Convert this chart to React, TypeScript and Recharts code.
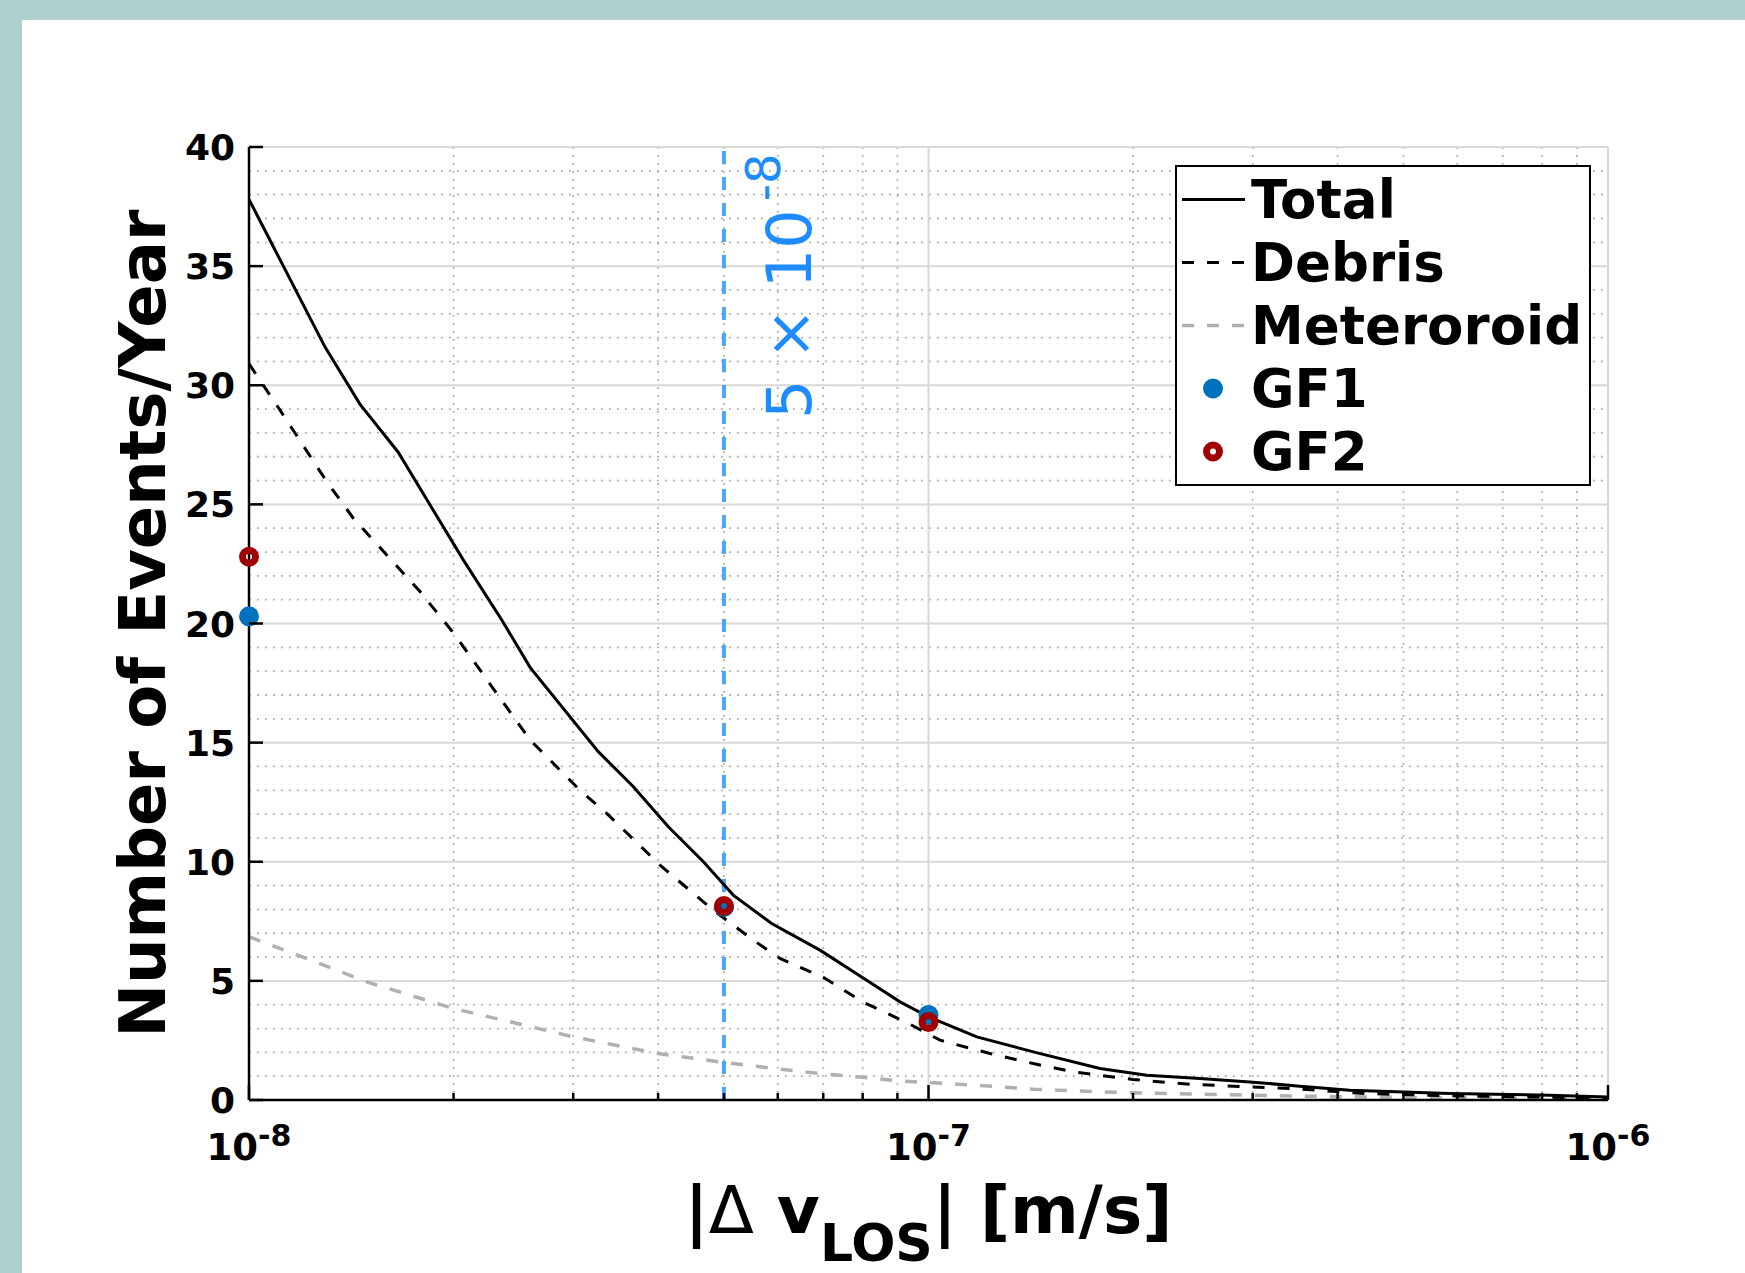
import React from "react";
import {
  ComposedChart,
  Line,
  Scatter,
  XAxis,
  YAxis,
  CartesianGrid,
  ReferenceLine,
  Legend,
} from "recharts";

const FONT = '"DejaVu Sans", sans-serif';

// x values are given in units of 1e-8 m/s
const totalX = [1.0, 1.294, 1.457, 1.657, 2.067, 2.355, 2.592, 3.266, 3.679, 4.141, 4.664, 5.16, 5.877, 6.923, 8.11, 9.08, 10.0, 11.78, 14.26, 17.88, 20.95, 25.1, 29.7, 35.2, 41.7, 58.5, 82, 100];
const totalY = [37.8, 31.6, 29.2, 27.2, 22.67, 20.15, 18.16, 14.62, 13.15, 11.47, 10.0, 8.6, 7.41, 6.29, 5.03, 4.12, 3.49, 2.65, 2.02, 1.32, 1.04, 0.9, 0.76, 0.58, 0.41, 0.27, 0.2, 0.13];

const debrisX = [1.0, 1.11, 1.301, 1.424, 1.785, 2.0, 2.592, 3.07, 3.36, 4.026, 4.82, 5.523, 6.046, 7.0, 8.02, 9.29, 10.4, 12.32, 14.26, 16.34, 20.0, 24.3, 28.1, 34.4, 43.2, 58, 80, 100];
const debrisY = [30.9, 28.97, 25.96, 24.42, 21.34, 19.6, 15.11, 13.0, 12.03, 9.86, 7.97, 6.71, 5.94, 5.15, 4.1, 3.25, 2.51, 1.95, 1.53, 1.18, 0.86, 0.66, 0.58, 0.48, 0.28, 0.18, 0.12, 0.08];

const meteorX = [1.0, 1.2, 1.49, 2.0, 2.5, 3.0, 4.0, 4.93, 6.0, 7.0, 8.0, 9.08, 10.15, 11.78, 14.26, 17.9, 22.4, 29.7, 35.2, 44, 58.5, 80, 100];
const meteorY = [6.85, 6.0, 4.96, 3.84, 3.19, 2.65, 1.95, 1.6, 1.3, 1.1, 0.95, 0.8, 0.72, 0.62, 0.45, 0.34, 0.27, 0.2, 0.16, 0.13, 0.09, 0.07, 0.05];

const gfX = [1, 5, 10];
const gf1Y = [20.3, 8.1, 3.57];
const gf2Y = [22.8, 8.14, 3.27];

const thresholdX = 5; // 5e-8

const yTicks = [0, 5, 10, 15, 20, 25, 30, 35, 40];
const yMinor = [1, 2, 3, 4, 6, 7, 8, 9, 11, 12, 13, 14, 16, 17, 18, 19, 21, 22, 23, 24, 26, 27, 28, 29, 31, 32, 33, 34, 36, 37, 38, 39];
const xMajor = [1, 10, 100];
const xMinor = [2, 3, 4, 5, 6, 7, 8, 9, 20, 30, 40, 50, 60, 70, 80, 90];

const toRows = (xs: number[], ys: number[]) =>
  xs.map((x, i) => ({ x: x / 1e8, y: ys[i] }));

const total = toRows(totalX, totalY);
const debris = toRows(debrisX, debrisY);
const meteor = toRows(meteorX, meteorY);
const gf1 = toRows(gfX, gf1Y);
const gf2 = toRows(gfX, gf2Y);

const xTickValues = [...xMajor, ...xMinor].map((v) => v / 1e8);

const BLUE = "#0072BD";
const RED = "#A20000";
const METEOR_GRAY = "#b0b0b0";

const legendItems = [
  { name: "Total", kind: "line", color: "#000", dash: undefined, width: 3 },
  { name: "Debris", kind: "line", color: "#000", dash: "12 13", width: 3 },
  { name: "Meteroroid", kind: "line", color: METEOR_GRAY, dash: "12 13", width: 3.5 },
  { name: "GF1", kind: "dot", color: BLUE },
  { name: "GF2", kind: "ring", color: RED },
];

const YTick = (props: any) => {
  const { x, y, payload } = props;
  return (
    <g>
      <line x1={x} x2={x + 14} y1={y} y2={y} stroke="#000" strokeWidth={2.5} />
      <text x={x - 14} y={y} dy={13} textAnchor="end" fontFamily={FONT} fontWeight="bold" fontSize={36} fill="#000">
        {payload.value}
      </text>
    </g>
  );
};

const XTick = (props: any) => {
  const { x, y, payload } = props;
  const v = payload.value;
  const e = Math.round(Math.log10(v));
  const decade = Math.abs(v / Math.pow(10, e) - 1) < 1e-6;
  return (
    <g>
      <line x1={x} x2={x} y1={y} y2={y - (decade ? 15 : 7)} stroke="#000" strokeWidth={2.5} />
      {decade && (
        <text x={x} y={y + 60} textAnchor="middle" fontFamily={FONT} fontWeight="bold" fill="#000">
          <tspan fontSize={37}>10</tspan>
          <tspan fontSize={30} dy={-14}>{e}</tspan>
        </text>
      )}
    </g>
  );
};

const renderYLabel = (props: any) => {
  const { viewBox } = props;
  const bx = viewBox.x + viewBox.width - 84;
  const by = viewBox.y + viewBox.height / 2;
  return (
    <text x={bx} y={by} transform={`rotate(-90 ${bx} ${by})`} textAnchor="middle" fontFamily={FONT} fontWeight="bold" fontSize={64} fill="#000">
      Number of Events/Year
    </text>
  );
};

const renderXLabel = (props: any) => {
  const { viewBox } = props;
  const cx = viewBox.x + viewBox.width / 2;
  const by = viewBox.y + 133;
  return (
    <text x={cx} y={by} textAnchor="middle" fontFamily={FONT} fontWeight="bold" fontSize={66} fill="#000">
      <tspan>|</tspan>
      <tspan fontWeight="normal">Δ</tspan>
      <tspan> v</tspan>
      <tspan fontSize={52} dy={28}>LOS</tspan>
      <tspan dy={-28}>| [m/s]</tspan>
    </text>
  );
};

const renderThreshold = (props: any) => {
  const { viewBox } = props;
  const bx = viewBox.x + 87;
  const by = viewBox.y + 272;
  return (
    <text x={bx} y={by} transform={`rotate(-90 ${bx} ${by})`} textAnchor="start" fontFamily={FONT} fontSize={62} fill="#1e8cff">
      <tspan>5 × 10</tspan>
      <tspan fontSize={48} dx={8} dy={-31}>-8</tspan>
    </text>
  );
};

const GF1Dot = (props: any) => <circle cx={props.cx} cy={props.cy} r={10} fill={BLUE} />;
const GF2Ring = (props: any) => (
  <circle cx={props.cx} cy={props.cy} r={6.5} fill="none" stroke={RED} strokeWidth={7} />
);

const LegendBox = () => (
  <div
    style={{
      boxSizing: "border-box",
      width: 416,
      height: 321,
      border: "2px solid #000",
      background: "#fff",
      paddingTop: 1,
      fontFamily: FONT,
      fontWeight: "bold",
      fontSize: 53,
      color: "#000",
    }}
  >
    {legendItems.map((it) => (
      <div key={it.name} style={{ display: "flex", alignItems: "center", height: 63, lineHeight: "63px" }}>
        <svg width={74} height={63} style={{ flex: "none" }}>
          {it.kind === "line" && (
            <line x1={5} x2={68} y1={31.5} y2={31.5} stroke={it.color} strokeWidth={it.width} strokeDasharray={it.dash} />
          )}
          {it.kind === "dot" && <circle cx={36} cy={31.5} r={10} fill={it.color} />}
          {it.kind === "ring" && (
            <circle cx={36} cy={31.5} r={6.5} fill="none" stroke={it.color} strokeWidth={7} />
          )}
        </svg>
        <span>{it.name}</span>
      </div>
    ))}
  </div>
);

export default function App() {
  return (
    <div
      style={{
        position: "absolute",
        left: 0,
        top: 0,
        width: 1745,
        height: 1273,
        background: "#AFCFCE",
        overflow: "hidden",
      }}
    >
      <div style={{ position: "absolute", left: 22, top: 20, right: 0, bottom: 0, background: "#fff" }} />
      <div style={{ position: "absolute", left: 0, top: 0 }}>
        <ComposedChart width={1745} height={1273} margin={{ top: 147, right: 137, bottom: 113, left: 149 }}>
          <CartesianGrid
            horizontalValues={yMinor}
            verticalValues={xMinor.map((v) => v / 1e8)}
            stroke="#adadad"
            strokeWidth={1.8}
            strokeDasharray="1.8 6.2"
          />
          <CartesianGrid
            horizontalValues={yTicks}
            verticalValues={xMajor.map((v) => v / 1e8)}
            stroke="#d8d8d8"
            strokeWidth={2}
          />
          <XAxis
            type="number"
            dataKey="x"
            scale="log"
            domain={[1e-8, 1e-6]}
            ticks={xTickValues}
            interval={0}
            tick={<XTick />}
            tickLine={false}
            tickSize={0}
            tickMargin={0}
            axisLine={{ stroke: "#000", strokeWidth: 2.5 }}
            height={60}
            label={{ content: renderXLabel }}
          />
          <YAxis
            type="number"
            dataKey="y"
            domain={[0, 40]}
            ticks={yTicks}
            interval={0}
            tick={<YTick />}
            tickLine={false}
            tickSize={0}
            tickMargin={0}
            axisLine={{ stroke: "#000", strokeWidth: 2.5 }}
            width={100}
            label={{ content: renderYLabel }}
          />
          <ReferenceLine
            x={thresholdX / 1e8}
            stroke="#4ca6ff"
            strokeWidth={4}
            strokeDasharray="13 13"
            label={{ content: renderThreshold }}
          />
          <Line data={meteor} dataKey="y" type="linear" stroke={METEOR_GRAY} strokeWidth={3.5} strokeDasharray="12 13" dot={false} isAnimationActive={false} name="Meteroroid" />
          <Line data={debris} dataKey="y" type="linear" stroke="#000" strokeWidth={3} strokeDasharray="12 13" dot={false} isAnimationActive={false} name="Debris" />
          <Line data={total} dataKey="y" type="linear" stroke="#000" strokeWidth={3} dot={false} isAnimationActive={false} name="Total" />
          <Scatter data={gf1} dataKey="y" shape={<GF1Dot />} isAnimationActive={false} name="GF1" />
          <Scatter data={gf2} dataKey="y" shape={<GF2Ring />} isAnimationActive={false} name="GF2" />
          <Legend
            layout="vertical"
            align="center"
            verticalAlign="middle"
            content={() => <LegendBox />}
            wrapperStyle={{ left: 1175, top: 165, width: 416, height: 321 }}
          />
        </ComposedChart>
      </div>
    </div>
  );
}
